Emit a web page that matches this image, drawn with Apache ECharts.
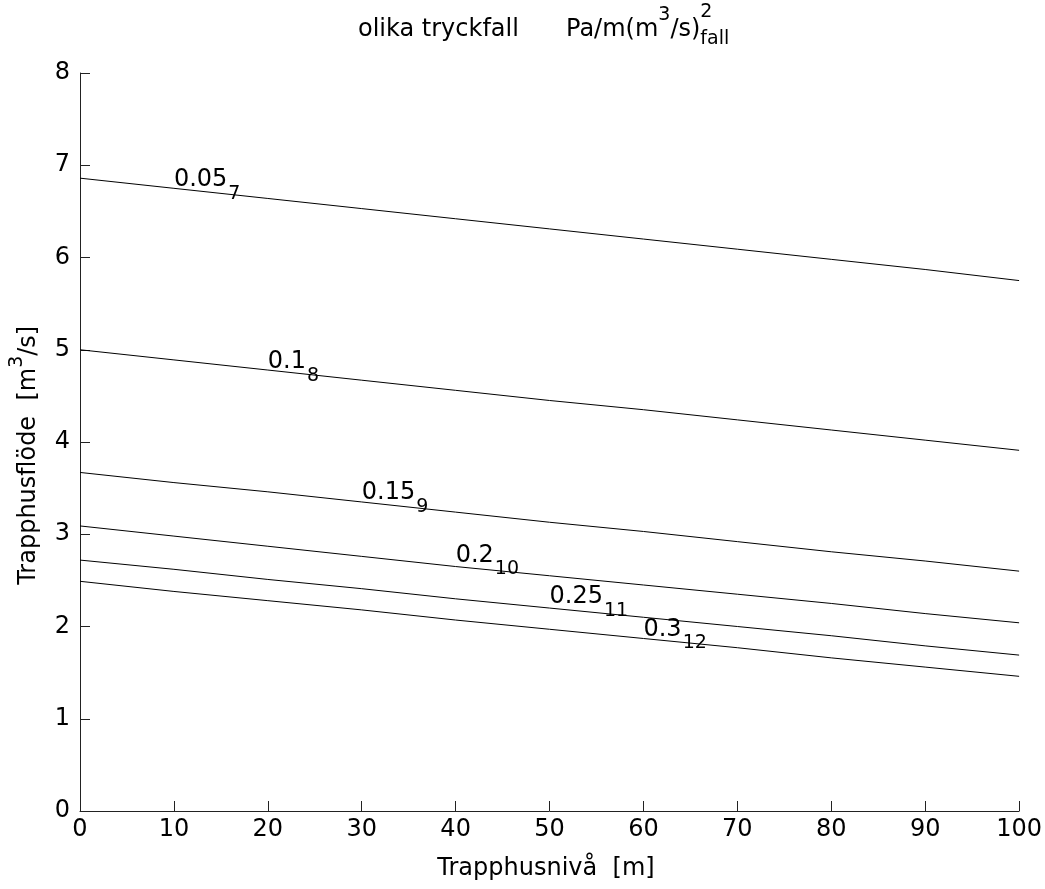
<!DOCTYPE html>
<html><head><meta charset="utf-8">
<script src="https://cdn.jsdelivr.net/npm/echarts@6/dist/echarts.min.js"></script>
<style>html,body{margin:0;padding:0;background:#fff}#c{width:1045px;height:889px}</style>
</head><body><div id="c"></div>
<script>
// Trapphusnivå [m]
const levels = [0, 10, 20, 30, 40, 50, 60, 70, 80, 90, 100];
// Trapphusflöde [m3/s] for each pressure-drop curve
const flow005 = [6.86, 6.75, 6.64, 6.53, 6.42, 6.31, 6.20, 6.09, 5.98, 5.87, 5.75];
const flow010 = [5.00, 4.89, 4.78, 4.67, 4.56, 4.45, 4.35, 4.24, 4.13, 4.02, 3.91];
const flow015 = [3.67, 3.56, 3.46, 3.35, 3.24, 3.13, 3.03, 2.92, 2.81, 2.71, 2.60];
const flow020 = [3.09, 2.98, 2.87, 2.76, 2.65, 2.55, 2.45, 2.35, 2.25, 2.14, 2.04];
const flow025 = [2.72, 2.62, 2.51, 2.41, 2.30, 2.20, 2.10, 2.00, 1.90, 1.79, 1.69];
const flow030 = [2.49, 2.38, 2.28, 2.18, 2.07, 1.97, 1.87, 1.77, 1.66, 1.56, 1.46];
// contour labels
const labelMain = ['0.05', '0.1', '0.15', '0.2', '0.25', '0.3'];
const labelSub = ['7', '8', '9', '10', '11', '12'];
const labelX = [10, 20, 30, 40, 50, 60];
const labelY = [6.84, 4.87, 3.445, 2.77, 2.32, 1.97];
// axis ticks
const xMin = 0, xMax = 100, xStep = 10;
const yMin = 0, yMax = 8, yStep = 1;

const FONT = 'DejaVu Sans';
const BIG = 24, SMALL = 19;
const curves = [flow005, flow010, flow015, flow020, flow025, flow030];

const mctx = document.createElement('canvas').getContext('2d');
function measure(text, size) {
  mctx.font = size + 'px "' + FONT + '"';
  return mctx.measureText(text).width;
}
function font(size) { return size + 'px "' + FONT + '"'; }

const series = curves.map((arr, k) => ({
  name: labelMain[k],
  type: 'line',
  data: levels.map((x, i) => [x, arr[i]]),
  showSymbol: false,
  symbol: 'none',
  lineStyle: { color: '#000', width: 1 },
  silent: true,
  z: 2
}));
// contour label main numbers
series.push({
  type: 'scatter', symbolSize: 0, silent: true, z: 5,
  itemStyle: { opacity: 1, color: '#000' },
  data: labelX.map((x, i) => [x, labelY[i]]),
  label: {
    show: true, position: 'right', distance: 0, opacity: 1,
    formatter: p => labelMain[p.dataIndex],
    fontFamily: FONT, fontSize: BIG, color: '#000'
  }
});
// contour label subscripts
series.push({
  type: 'scatter', symbolSize: 0, silent: true, z: 5,
  itemStyle: { opacity: 1, color: '#000' },
  data: labelX.map((x, i) => ({
    value: [x, labelY[i]],
    label: { offset: [measure(labelMain[i], BIG) + 1, 14] }
  })),
  label: {
    show: true, position: 'right', distance: 0, opacity: 1,
    formatter: p => labelSub[p.dataIndex],
    fontFamily: FONT, fontSize: SMALL, color: '#000'
  }
});

// title pieces
const tX = 566, tY = 29.7;
const w1 = measure('Pa/m(m', BIG), w3 = measure('3', SMALL), w4 = measure('/s)', BIG);
// y-axis label pieces (rotated, reading upwards)
const yl1 = 'Trapphusflöde  [m', yl3 = '/s]';
const yw1 = measure(yl1, BIG), yw2 = measure('3', SMALL), yw3 = measure(yl3, BIG);
const yStart = 455.3 + (yw1 + yw2 + yw3) / 2;
const yMid = 28.4;

const chart = echarts.init(document.getElementById('c'), null, { renderer: 'canvas' });
chart.setOption({
  animation: false,
  backgroundColor: '#fff',
  grid: { left: 80, right: 25, top: 73, bottom: 78, containLabel: false },
  xAxis: {
    type: 'value', min: xMin, max: xMax, interval: xStep,
    axisLine: { show: true, lineStyle: { color: '#222', width: 1 } },
    axisTick: { show: true, inside: true, length: 10, lineStyle: { color: '#222' } },
    axisLabel: { fontFamily: FONT, fontSize: BIG, color: '#000', margin: 7, showMinLabel: true, showMaxLabel: true },
    splitLine: { show: false }
  },
  yAxis: {
    type: 'value', min: yMin, max: yMax, interval: yStep,
    axisLine: { show: true, lineStyle: { color: '#222', width: 1 } },
    axisTick: { show: true, inside: true, length: 10, lineStyle: { color: '#222' } },
    axisLabel: { fontFamily: FONT, fontSize: BIG, color: '#000', margin: 10, showMinLabel: true, showMaxLabel: true },
    splitLine: { show: false }
  },
  graphic: [
    { type: 'text', x: 358, y: tY, style: { text: 'olika tryckfall', font: font(BIG), fill: '#000', align: 'left', verticalAlign: 'middle' } },
    { type: 'text', x: tX, y: tY, style: { text: 'Pa/m(m', font: font(BIG), fill: '#000', align: 'left', verticalAlign: 'middle' } },
    { type: 'text', x: tX + w1, y: 15, style: { text: '3', font: font(SMALL), fill: '#000', align: 'left', verticalAlign: 'middle' } },
    { type: 'text', x: tX + w1 + w3, y: tY, style: { text: '/s)', font: font(BIG), fill: '#000', align: 'left', verticalAlign: 'middle' } },
    { type: 'text', x: tX + w1 + w3 + w4, y: 12.5, style: { text: '2', font: font(SMALL), fill: '#000', align: 'left', verticalAlign: 'middle' } },
    { type: 'text', x: tX + w1 + w3 + w4, y: 39, style: { text: 'fall', font: font(SMALL), fill: '#000', align: 'left', verticalAlign: 'middle' } },
    { type: 'text', x: 546, y: 868.7, style: { text: 'Trapphusnivå  [m]', font: font(BIG), fill: '#000', align: 'center', verticalAlign: 'middle' } },
    { type: 'text', x: yMid, y: yStart, rotation: Math.PI / 2, style: { text: yl1, font: font(BIG), fill: '#000', align: 'left', verticalAlign: 'middle' } },
    { type: 'text', x: yMid - 11, y: yStart - yw1, rotation: Math.PI / 2, style: { text: '3', font: font(SMALL), fill: '#000', align: 'left', verticalAlign: 'middle' } },
    { type: 'text', x: yMid, y: yStart - yw1 - yw2, rotation: Math.PI / 2, style: { text: yl3, font: font(BIG), fill: '#000', align: 'left', verticalAlign: 'middle' } }
  ],
  series: series
});
</script>
</body></html>
